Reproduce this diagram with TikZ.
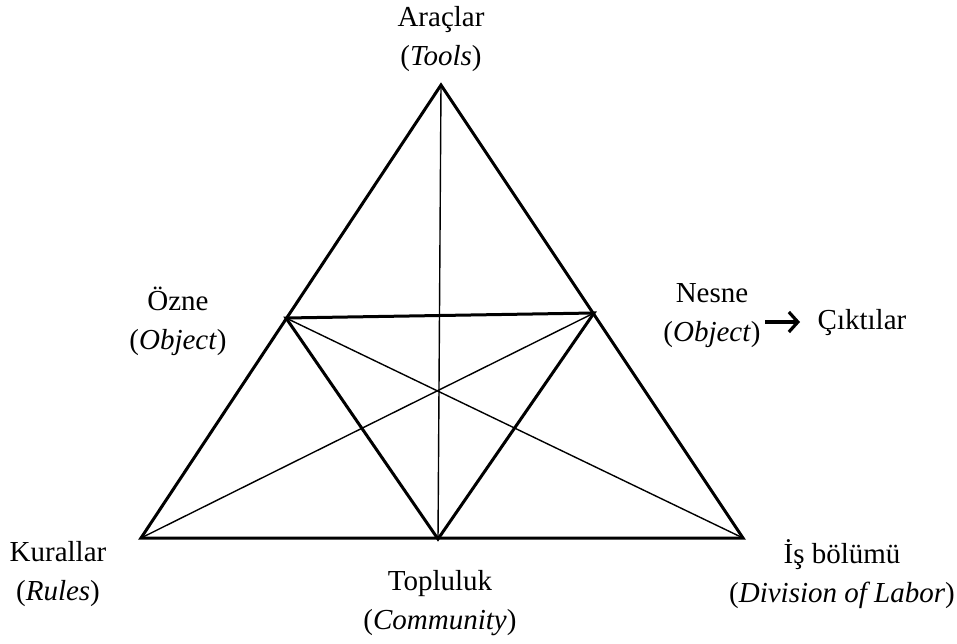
\documentclass[tikz,border=0pt]{standalone}
\usepackage{fontspec}
\setmainfont{Liberation Serif}
\usetikzlibrary{arrows.meta}
\begin{document}
\begin{tikzpicture}[x=1pt,y=-1pt,
  thick line/.style={line width=3pt,line join=miter},
  thin line/.style={line width=1.4pt},
  lbl/.style={font=\fontsize{29}{39}\selectfont,align=center,inner sep=0pt}]
\useasboundingbox (0,0) rectangle (957,644);
% vertices
\coordinate (T) at (441,85);
\coordinate (BL) at (141,538);
\coordinate (BR) at (743,538);
\coordinate (ML) at (286,318);
\coordinate (MR) at (594,313);
\coordinate (MB) at (438,539);
% outer triangle
\draw[thick line] (T) -- (BL) -- (BR) -- cycle;
% inner triangle
\draw[thick line] (ML) -- (MR) -- (MB) -- cycle;
% medians
\draw[thin line] (T) -- (MB);
\draw[thin line] (BL) -- (MR);
\draw[thin line] (BR) -- (ML);
% labels
\node[lbl] (arac) at (441,39) {Araçlar\\(\textit{Tools})};
\node[lbl] (ozne) at (178,321) {Özne\\(\textit{Object})};
\node[lbl] (nesne) at (712,316) {Nesne\\(\textit{Object})};
\node[lbl] (cikti) at (862,323) {Çıktılar};
\node[lbl] (kural) at (58,574) {Kurallar\\(\textit{Rules})};
\node[lbl] (top) at (440,603) {Topluluk\\(\textit{Community})};
\node[lbl] (is) at (842,574) {İş bölümü\\(\textit{Division of Labor})};
% arrow
\coordinate (a1) at (765,322);
\coordinate (a2) at (800,322);
\draw[line width=3.2pt,-{Straight Barb[length=9pt,width=20pt,line width=3.2pt]}] (a1) -- (a2);
\end{tikzpicture}
\end{document}
